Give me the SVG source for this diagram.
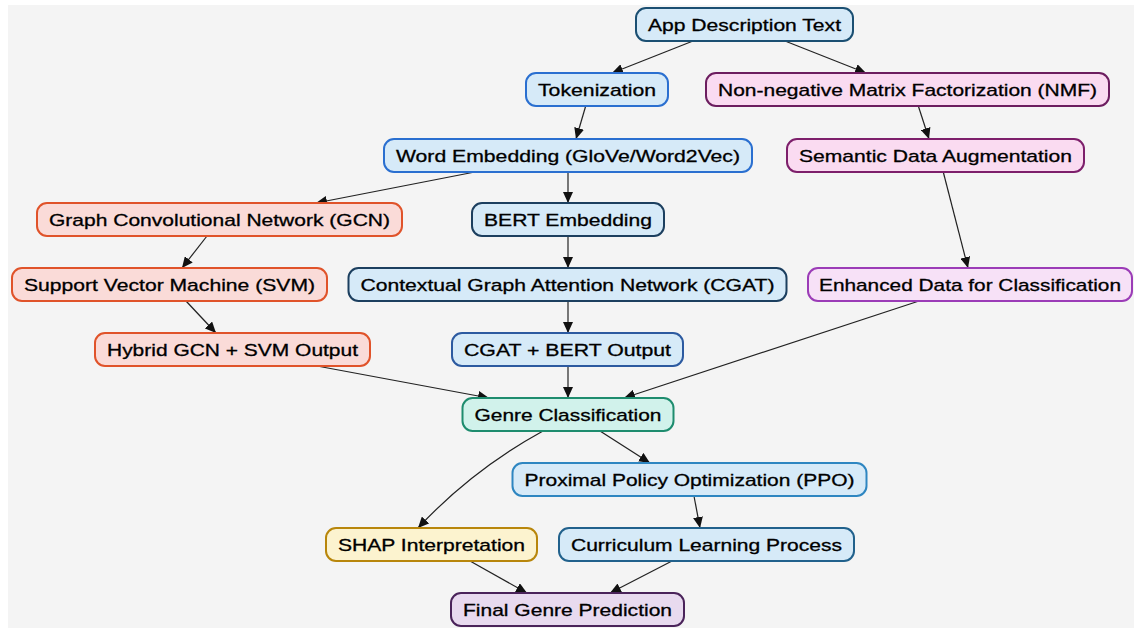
<svg xmlns="http://www.w3.org/2000/svg" width="1134" height="628" viewBox="0 0 1134 628">
<defs>
<style>
.n rect{stroke-width:2}
.n text{font-family:"Liberation Sans",Arial,sans-serif;font-size:17px;fill:#000;stroke:#000;stroke-width:0.3;text-anchor:middle;dominant-baseline:central}
.blue rect{fill:#d6eaf8}
.pink rect{fill:#fadbf1}
.red rect{fill:#fadbd8;stroke:#e0532a}
.e{fill:none;stroke:#222;stroke-width:1.2;marker-end:url(#ah)}
</style>
<marker id="ah" markerUnits="userSpaceOnUse" markerWidth="12" markerHeight="10" refX="11" refY="5" orient="auto">
<path d="M0,0 L11,5 L0,10 Z" fill="#111"/>
</marker>
</defs>
<rect x="8" y="5" width="1126" height="623" fill="#f4f4f4"/>
<g id="connectors">
<line class="e" x1="693" y1="41" x2="612" y2="73"/>
<line class="e" x1="785" y1="41" x2="866" y2="73"/>
<line class="e" x1="586" y1="105" x2="576" y2="139"/>
<line class="e" x1="918" y1="105" x2="929" y2="139"/>
<line class="e" x1="480" y1="171" x2="316" y2="203"/>
<line class="e" x1="568" y1="171" x2="568" y2="203"/>
<line class="e" x1="943" y1="171" x2="968" y2="268"/>
<line class="e" x1="207" y1="236" x2="182" y2="268"/>
<line class="e" x1="568" y1="236" x2="568" y2="268"/>
<line class="e" x1="186" y1="301" x2="216" y2="333"/>
<line class="e" x1="568" y1="301" x2="568" y2="333"/>
<line class="e" x1="317" y1="366" x2="489" y2="398"/>
<line class="e" x1="568" y1="366" x2="568" y2="398"/>
<line class="e" x1="919" y1="301" x2="624" y2="398"/>
<path class="e" d="M543,431 Q472,470 418,528"/>
<line class="e" x1="600" y1="431" x2="650" y2="463"/>
<line class="e" x1="694" y1="496" x2="700" y2="528"/>
<line class="e" x1="470" y1="561" x2="527" y2="593"/>
<line class="e" x1="672" y1="561" x2="610" y2="593"/>
</g>
<g id="app" class="n blue"><rect x="636" y="8" width="217" height="33" rx="10" stroke="#1b4f72"/><text x="744.5" y="25" textLength="193" lengthAdjust="spacingAndGlyphs">App Description Text</text></g>
<g id="tok" class="n blue"><rect x="526" y="73" width="142" height="33" rx="10" stroke="#2a6fd0"/><text x="597" y="90" textLength="118" lengthAdjust="spacingAndGlyphs">Tokenization</text></g>
<g id="nmf" class="n pink"><rect x="706" y="73" width="403" height="33" rx="10" stroke="#6c1d5f"/><text x="907.5" y="90" textLength="379" lengthAdjust="spacingAndGlyphs">Non-negative Matrix Factorization (NMF)</text></g>
<g id="we" class="n blue"><rect x="384" y="139" width="368" height="33" rx="10" stroke="#2a6fd0"/><text x="568" y="156" textLength="344" lengthAdjust="spacingAndGlyphs">Word Embedding (GloVe/Word2Vec)</text></g>
<g id="sda" class="n pink"><rect x="787" y="139" width="297" height="33" rx="10" stroke="#7d1f6b"/><text x="935.5" y="156" textLength="273" lengthAdjust="spacingAndGlyphs">Semantic Data Augmentation</text></g>
<g id="gcn" class="n red"><rect x="37" y="203" width="365" height="33" rx="10"/><text x="219.5" y="220" textLength="341" lengthAdjust="spacingAndGlyphs">Graph Convolutional Network (GCN)</text></g>
<g id="bert" class="n blue"><rect x="472" y="203" width="192" height="33" rx="10" stroke="#1c3f5f"/><text x="568" y="220" textLength="168" lengthAdjust="spacingAndGlyphs">BERT Embedding</text></g>
<g id="svm" class="n red"><rect x="12" y="268" width="315" height="33" rx="10"/><text x="169.5" y="285" textLength="291" lengthAdjust="spacingAndGlyphs">Support Vector Machine (SVM)</text></g>
<g id="cgat" class="n blue"><rect x="348.5" y="268" width="438" height="33" rx="10" stroke="#1c3f5f"/><text x="567.5" y="285" textLength="414" lengthAdjust="spacingAndGlyphs">Contextual Graph Attention Network (CGAT)</text></g>
<g id="enh" class="n"><rect x="808" y="268" width="324" height="33" rx="10" fill="#f7e1f7" stroke="#9b3cb7"/><text x="970" y="285" textLength="302" lengthAdjust="spacingAndGlyphs">Enhanced Data for Classification</text></g>
<g id="hyb" class="n red"><rect x="95" y="333" width="275" height="33" rx="10"/><text x="232.5" y="350" textLength="251" lengthAdjust="spacingAndGlyphs">Hybrid GCN + SVM Output</text></g>
<g id="cbo" class="n blue"><rect x="452" y="333" width="231" height="33" rx="10" stroke="#2c5aa0"/><text x="567.5" y="350" textLength="207" lengthAdjust="spacingAndGlyphs">CGAT + BERT Output</text></g>
<g id="genre" class="n"><rect x="462.5" y="398" width="211" height="33" rx="10" fill="#d1f2eb" stroke="#1e8c6e"/><text x="568" y="415" textLength="187" lengthAdjust="spacingAndGlyphs">Genre Classification</text></g>
<g id="ppo" class="n blue"><rect x="512.5" y="463" width="354" height="33" rx="10" stroke="#2e86c1"/><text x="689.5" y="480" textLength="330" lengthAdjust="spacingAndGlyphs">Proximal Policy Optimization (PPO)</text></g>
<g id="shap" class="n"><rect x="326" y="528" width="211" height="33" rx="10" fill="#fcf3cf" stroke="#b8860b"/><text x="431.5" y="545" textLength="187" lengthAdjust="spacingAndGlyphs">SHAP Interpretation</text></g>
<g id="cur" class="n blue"><rect x="559" y="528" width="295" height="33" rx="10" stroke="#21618c"/><text x="706.5" y="545" textLength="271" lengthAdjust="spacingAndGlyphs">Curriculum Learning Process</text></g>
<g id="final" class="n"><rect x="451" y="593" width="233" height="33" rx="10" fill="#e8daef" stroke="#4a235a"/><text x="567.5" y="610" textLength="209" lengthAdjust="spacingAndGlyphs">Final Genre Prediction</text></g>
</svg>
